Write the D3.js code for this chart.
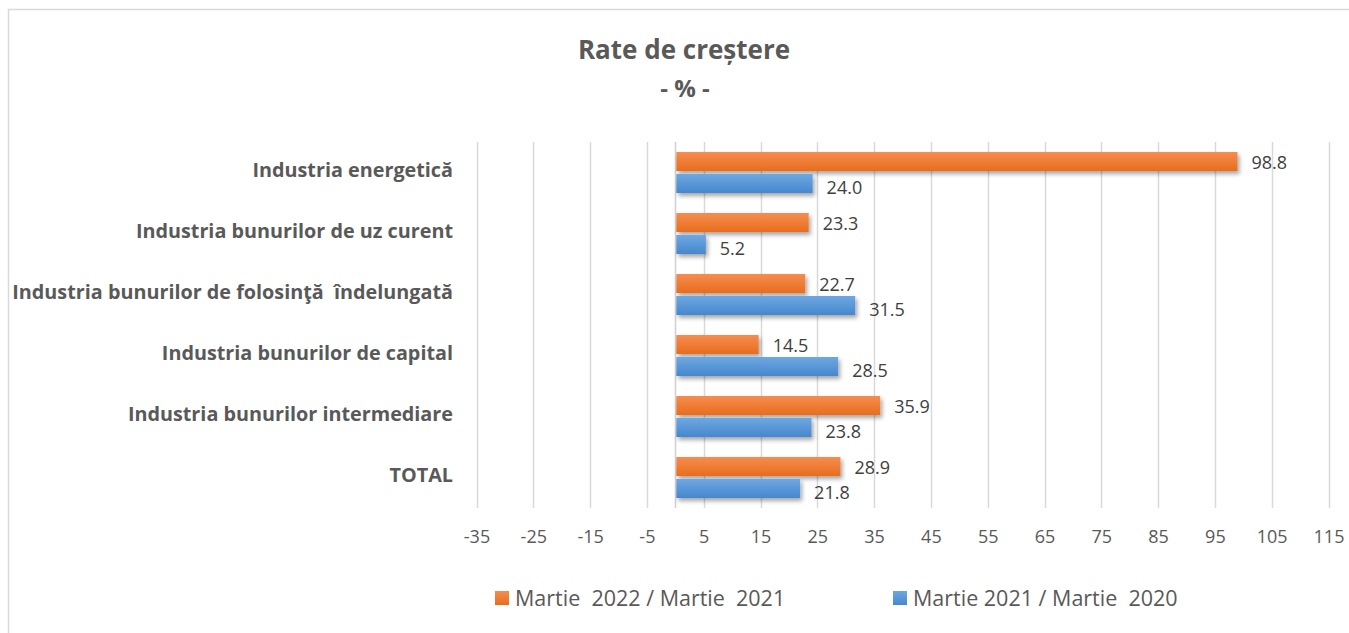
<!DOCTYPE html>
<html>
<head>
<meta charset="utf-8">
<script src="https://cdn.jsdelivr.net/npm/d3@7"></script>
<style>
  html, body { margin: 0; padding: 0; background: #fff; }
  svg { display: block; font-family: "Open Sans", Lato, sans-serif; }
  text { white-space: pre; }
</style>
</head>
<body>
<svg id="chart" width="1349" height="633"></svg>
<script>
// ---- data ----
const categories = [
  "Industria energetică",
  "Industria bunurilor de uz curent",
  "Industria bunurilor de folosinţă  îndelungată",
  "Industria bunurilor de capital",
  "Industria bunurilor intermediare",
  "TOTAL"
];
const seriesNames = ["Martie  2022 / Martie  2021", "Martie 2021 / Martie  2020"];
const valuesMar22 = [98.8, 23.3, 22.7, 14.5, 35.9, 28.9];
const valuesMar21 = [24.0, 5.2, 31.5, 28.5, 23.8, 21.8];
const tickValues = [-35, -25, -15, -5, 5, 15, 25, 35, 45, 55, 65, 75, 85, 95, 105, 115];
const titleText = "Rate de creștere";
const subtitleText = "- % -";

const seriesValues = [valuesMar22, valuesMar21];
const seriesColors = [
  { top: "#F58D50", bottom: "#E86D1C" },
  { top: "#6EA8E1", bottom: "#4687CE" }
];

const svg = d3.select("#chart");
const textColor = "#595959";
const fontFam = "'Open Sans', Lato, sans-serif";

// defs: gradients + shadow
const defs = svg.append("defs");
seriesColors.forEach((c, i) => {
  const g = defs.append("linearGradient").attr("id", "grad" + i)
    .attr("x1", 0).attr("y1", 0).attr("x2", 0).attr("y2", 1);
  g.append("stop").attr("offset", "0%").attr("stop-color", c.top);
  g.append("stop").attr("offset", "100%").attr("stop-color", c.bottom);
});
const f = defs.append("filter").attr("id", "shadow")
  .attr("x", "-10%").attr("y", "-50%").attr("width", "130%").attr("height", "250%");
f.append("feDropShadow").attr("dx", 2).attr("dy", 3).attr("stdDeviation", 2)
  .attr("flood-color", "#000").attr("flood-opacity", 0.35);

// chart border
svg.append("rect").attr("x", 8.5).attr("y", 9.5).attr("width", 1400).attr("height", 700)
  .attr("fill", "none").attr("stroke", "#d9d9d9").attr("stroke-width", 1.5);

// titles
svg.append("text").attr("x", 684).attr("y", 59).attr("text-anchor", "middle")
  .attr("font-size", 26).attr("font-weight", "bold").attr("fill", textColor).text(titleText);
svg.append("text").attr("x", 685).attr("y", 97).attr("text-anchor", "middle")
  .attr("font-size", 24).attr("font-weight", "bold").attr("fill", textColor).text(subtitleText);

// scales
const x = d3.scaleLinear().domain([-35, 115]).range([476.5, 1328.5]);
const y = d3.scaleBand().domain(categories).range([142, 508]).paddingInner(0).paddingOuter(0);
const ys = d3.scaleBand().domain(d3.range(seriesValues.length)).range([0, y.bandwidth()])
  .paddingInner(0.136).paddingOuter(0.455);

// gridlines
svg.append("g").selectAll("line").data(tickValues).join("line")
  .attr("x1", d => Math.round(x(d)) + 0.5).attr("x2", d => Math.round(x(d)) + 0.5)
  .attr("y1", 142).attr("y2", 508)
  .attr("stroke", "#d9d9d9").attr("stroke-width", 1.5);

// zero (category) axis line
svg.append("line")
  .attr("x1", Math.round(x(0)) + 0.5).attr("x2", Math.round(x(0)) + 0.5)
  .attr("y1", 142).attr("y2", 508)
  .attr("stroke", "#d0d0d0").attr("stroke-width", 1.5);

// x axis tick labels
const xAxis = d3.axisBottom(x).tickValues(tickValues).tickSize(0).tickPadding(0)
  .tickFormat(d => String(d));
const gx = svg.append("g").attr("transform", "translate(0,530)").call(xAxis);
gx.select(".domain").remove();
gx.selectAll("text").attr("font-size", 18).attr("fill", textColor)
  .attr("font-family", fontFam).attr("dy", "0.7em");

// category labels
const yAxis = d3.axisLeft(y).tickSize(0).tickPadding(0);
const gy = svg.append("g").attr("transform", "translate(453,-2)").call(yAxis);
gy.select(".domain").remove();
gy.selectAll("text").attr("font-size", 19.8).attr("font-weight", "bold").attr("fill", textColor)
  .attr("font-family", fontFam);

// bars
seriesValues.forEach((vals, si) => {
  const g = svg.append("g");
  g.selectAll("rect").data(vals).join("rect")
    .attr("x", d => x(Math.min(0, d)) + 1)
    .attr("y", (d, i) => y(categories[i]) + ys(si))
    .attr("width", d => Math.abs(x(d) - x(0)))
    .attr("height", ys.bandwidth())
    .attr("fill", "url(#grad" + si + ")")
    .attr("filter", "url(#shadow)");
});

// value labels
seriesValues.forEach((vals, si) => {
  svg.append("g").selectAll("text").data(vals).join("text")
    .attr("x", d => x(d) + 15)
    .attr("y", (d, i) => y(categories[i]) + ys(si) + ys.bandwidth() / 2 + (si === 1 ? 4 : 1))
    .attr("dy", "0.36em")
    .attr("font-size", 18).attr("fill", "#404040")
    .text(d => d3.format(".1f")(d));
});

// legend
const legendX = [495, 893];
const lg = svg.append("g");
seriesNames.forEach((name, i) => {
  lg.append("rect").attr("x", legendX[i]).attr("y", 591).attr("width", 14).attr("height", 14)
    .attr("fill", "url(#grad" + i + ")");
  lg.append("text").attr("x", legendX[i] + 20).attr("y", 605.5)
    .attr("font-size", 21.5).attr("fill", textColor).text(name);
});
</script>
</body>
</html>
